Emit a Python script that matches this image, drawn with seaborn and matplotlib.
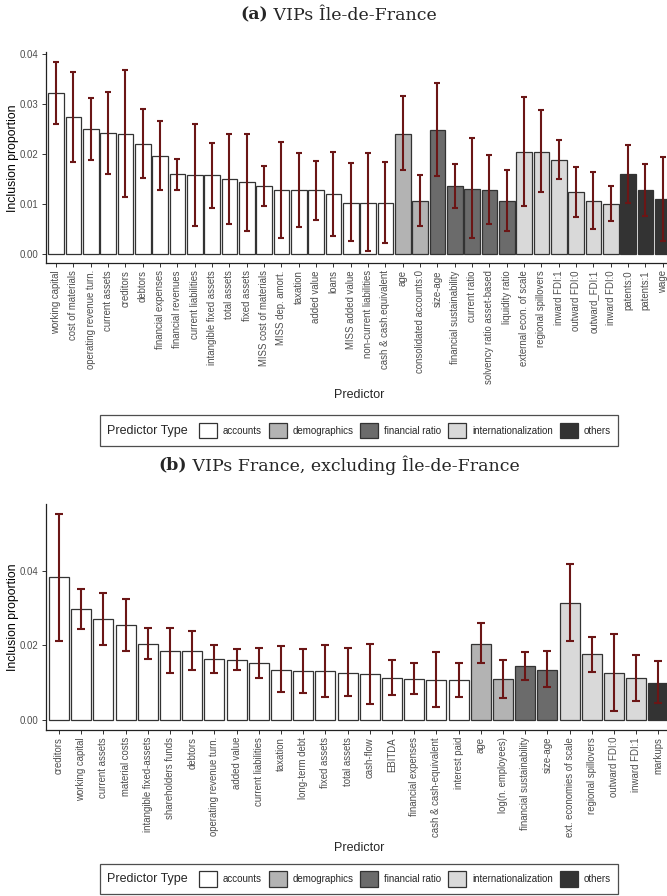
import matplotlib
matplotlib.use("Agg")
import matplotlib.pyplot as plt
from matplotlib.patches import Patch
from matplotlib.offsetbox import HPacker
import numpy as np
import pandas as pd
import seaborn as sns

# ---- panel (a): VIPs Île-de-France ----
pred_a = ["working capital", "cost of materials", "operating revenue turn.", "current assets",
          "creditors", "debtors", "financial expenses", "financial revenues",
          "current liabilities", "intangible fixed assets", "total assets", "fixed assets",
          "MISS cost of materials", "MISS dep. amort.", "taxation", "added value", "loans",
          "MISS added value", "non-current liabilities", "cash & cash.equivalent",
          "age", "consolidated accounts:0",
          "size-age", "financial sustainability", "current ratio",
          "solvency ratio asset-based", "liquidity ratio",
          "external econ. of scale", "regional spillovers", "inward FDI:1",
          "outward FDI:0", "outward_FDI:1", "inward FDI:0",
          "patents:0", "patents:1", "wage"]
type_a = (["accounts"] * 20 + ["demographics"] * 2 + ["financial ratio"] * 5
          + ["internationalization"] * 6 + ["others"] * 3)
prop_a = [0.0323, 0.0274, 0.0250, 0.0243, 0.0241, 0.0221, 0.0197, 0.0160, 0.0158, 0.0158,
          0.0150, 0.0144, 0.0136, 0.0128, 0.0128, 0.0128, 0.0121, 0.0103, 0.0103, 0.0103,
          0.0241, 0.0106,
          0.0249, 0.0136, 0.0131, 0.0128, 0.0106,
          0.0205, 0.0205, 0.0188, 0.0124, 0.0107, 0.0101,
          0.0161, 0.0128, 0.0110]
low_a = [0.0260, 0.0184, 0.0188, 0.0160, 0.0114, 0.0152, 0.0128, 0.0128, 0.0056, 0.0093,
         0.0061, 0.0046, 0.0096, 0.0032, 0.0054, 0.0069, 0.0037, 0.0027, 0.0007, 0.0023,
         0.0168, 0.0056,
         0.0157, 0.0093, 0.0032, 0.0061, 0.0046,
         0.0097, 0.0124, 0.0150, 0.0075, 0.0051, 0.0067,
         0.0103, 0.0076, 0.0027]
high_a = [0.0385, 0.0365, 0.0312, 0.0325, 0.0368, 0.0290, 0.0266, 0.0191, 0.0260, 0.0223,
          0.0240, 0.0241, 0.0177, 0.0224, 0.0202, 0.0186, 0.0204, 0.0182, 0.0202, 0.0184,
          0.0316, 0.0158,
          0.0342, 0.0180, 0.0232, 0.0198, 0.0169,
          0.0314, 0.0288, 0.0228, 0.0174, 0.0164, 0.0136,
          0.0219, 0.0180, 0.0194]

# ---- panel (b): VIPs France, excluding Île-de-France ----
pred_b = ["creditors", "working capital", "current assets", "material costs",
          "intangible fixed-assets", "shareholders funds", "debtors",
          "operating revenue turn.", "added value", "current liabilities", "taxation",
          "long-term debt", "fixed assets", "total assets", "cash-flow", "EBITDA",
          "financial expenses", "cash & cash-equivalent", "interest paid",
          "age", "log(n. employees)",
          "financial sustainability", "size-age",
          "ext. economies of scale", "regional spillovers", "outward FDI:0", "inward FDI:1",
          "markups"]
type_b = (["accounts"] * 19 + ["demographics"] * 2 + ["financial ratio"] * 2
          + ["internationalization"] * 4 + ["others"] * 1)
prop_b = [0.0383, 0.0298, 0.0271, 0.0254, 0.0204, 0.0186, 0.0186, 0.0163, 0.0161, 0.0152,
          0.0135, 0.0131, 0.0130, 0.0127, 0.0124, 0.0113, 0.0109, 0.0108, 0.0106,
          0.0205, 0.0109,
          0.0144, 0.0135,
          0.0315, 0.0176, 0.0126, 0.0111,
          0.0100]
low_b = [0.0213, 0.0245, 0.0202, 0.0185, 0.0164, 0.0126, 0.0134, 0.0127, 0.0133, 0.0111,
         0.0074, 0.0071, 0.0060, 0.0063, 0.0043, 0.0066, 0.0068, 0.0033, 0.0060,
         0.0152, 0.0058,
         0.0106, 0.0088,
         0.0213, 0.0129, 0.0023, 0.0049,
         0.0044]
high_b = [0.0553, 0.0351, 0.0340, 0.0324, 0.0247, 0.0248, 0.0239, 0.0200, 0.0189, 0.0193,
          0.0198, 0.0191, 0.0202, 0.0194, 0.0204, 0.0161, 0.0152, 0.0183, 0.0152,
          0.0259, 0.0161,
          0.0182, 0.0185,
          0.0418, 0.0223, 0.0230, 0.0175,
          0.0158]

type_levels = ["accounts", "demographics", "financial ratio", "internationalization", "others"]
type_colors = ["#FFFFFF", "#B3B3B3", "#6B6B6B", "#D9D9D9", "#333333"]
palette = dict(zip(type_levels, type_colors))

SANS = "Liberation Sans"
SERIF = "DejaVu Serif"
TICK_GREY = "#4D4D4D"
ERR_COLOR = "#6B1616"

sns.set_theme(style="ticks")
plt.rcParams["font.family"] = [SANS, "DejaVu Sans"]

W, H = 667, 896
fig = plt.figure(figsize=(W / 100, H / 100), dpi=100)


def px_axes(x0, x1, y_top, y_bot):
    return fig.add_axes([x0 / W, 1 - y_bot / H, (x1 - x0) / W, (y_bot - y_top) / H])


def draw_panel(ax, preds, types, props, lows, highs, yticks, ylim, capsize):
    df = pd.DataFrame({"Predictor": preds, "type": types, "prop": props,
                       "low": lows, "high": highs})
    sns.barplot(data=df, x="Predictor", y="prop", hue="type", order=preds,
                hue_order=type_levels, palette=palette, dodge=False, width=0.9,
                edgecolor="#333333", linewidth=0.9, errorbar=None, legend=False,
                saturation=1, ax=ax)
    xs = np.arange(len(preds))
    props = np.asarray(props)
    ax.errorbar(xs, props,
                yerr=[props - np.asarray(lows), np.asarray(highs) - props],
                fmt="none", ecolor=ERR_COLOR, elinewidth=1.5, capsize=capsize,
                capthick=1.5, zorder=5)
    ax.set_xlim(-0.6, len(preds) - 0.4)
    ax.set_ylim(*ylim)
    ax.set_yticks(yticks)
    ax.set_yticklabels([f"{t:.2f}" for t in yticks])
    ax.set_xticks(xs)
    ax.set_xticklabels(preds, rotation=90, ha="center", va="top")
    ax.tick_params(axis="both", labelsize=6.9, labelcolor=TICK_GREY, color="#333333",
                   length=3, width=0.7, pad=2)
    for s in ["top", "right"]:
        ax.spines[s].set_visible(False)
    for s in ["left", "bottom"]:
        ax.spines[s].set_color("#222222")
        ax.spines[s].set_linewidth(0.9)
    ax.set_xlabel("")
    ax.set_ylabel("Inclusion proportion", fontsize=8.8, color="black", labelpad=0.8)


def add_legend(y_center):
    handles = [Patch(facecolor=c, edgecolor="#333333", linewidth=0.9, label=l)
               for l, c in zip(type_levels, type_colors)]
    leg = fig.legend(handles=handles, loc="center", bbox_to_anchor=(359 / W, 1 - y_center / H),
                     ncol=5, frameon=True, fontsize=7, title="Predictor Type",
                     title_fontsize=9, handlelength=1.85, handleheight=2.15,
                     handletextpad=0.6, columnspacing=0.7, borderpad=0.75,
                     borderaxespad=0)
    leg.get_frame().set_edgecolor("#222222")
    leg.get_frame().set_linewidth(0.9)
    leg.get_frame().set_boxstyle("square", pad=0)
    # title sits on the left of the keys, on one row
    title_box = leg._legend_title_box
    handle_box = leg._legend_handle_box
    leg._legend_box._children = [HPacker(pad=0, sep=8, align="center",
                                         children=[title_box, handle_box])]
    return leg


def add_title(tag, text, y):
    fig.canvas.draw()
    r = fig.canvas.get_renderer()
    t1 = fig.text(0, 0, tag, fontsize=12.5, fontweight="bold", family=SERIF)
    t2 = fig.text(0, 0, " " + text, fontsize=12.5, family=SERIF)
    w1 = t1.get_window_extent(r).width
    w2 = t2.get_window_extent(r).width
    x0 = 339 - (w1 + w2) / 2
    t1.set_position((x0 / W, 1 - y / H))
    t2.set_position(((x0 + w1) / W, 1 - y / H))
    t1.set_va("center")
    t2.set_va("center")


ax_a = px_axes(45.7, 673.1, 52.3, 263.3)
draw_panel(ax_a, pred_a, type_a, prop_a, low_a, high_a,
           [0.00, 0.01, 0.02, 0.03, 0.04], (-0.0018, 0.0404), 2.4)
fig.text(359 / W, 1 - 395 / H, "Predictor", ha="center", va="center", fontsize=9)
add_legend(430.5)

ax_b = px_axes(45.7, 671.7, 503.9, 730.0)
draw_panel(ax_b, pred_b, type_b, prop_b, low_b, high_b,
           [0.00, 0.02, 0.04], (-0.00277, 0.05807), 3.0)
fig.text(359 / W, 1 - 848 / H, "Predictor", ha="center", va="center", fontsize=9)
add_legend(879)

add_title("(a)", "VIPs Île-de-France", 15)
add_title("(b)", "VIPs France, excluding Île-de-France", 465)

fig.savefig("out.png", dpi=100)
